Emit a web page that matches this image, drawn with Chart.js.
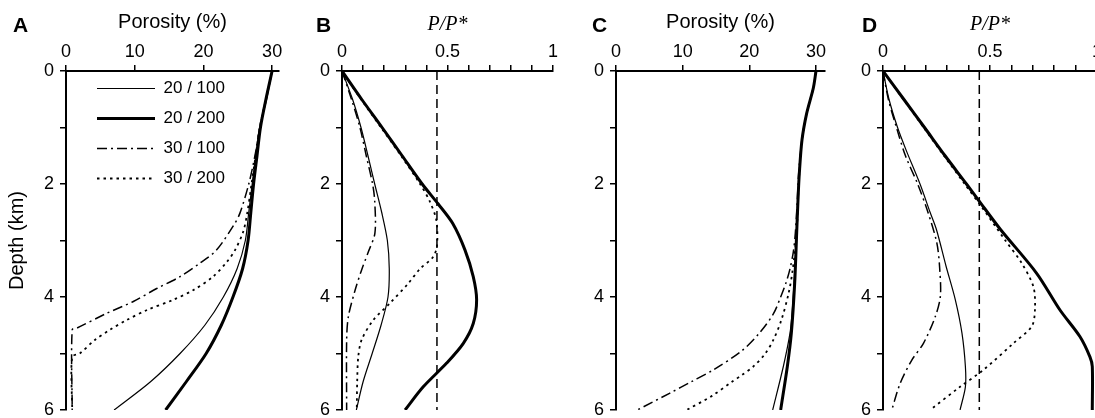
<!DOCTYPE html>
<html>
<head>
<meta charset="utf-8">
<title>Porosity and P/P* versus depth</title>
<script src="https://cdn.jsdelivr.net/npm/chart.js@4.4.1/dist/chart.umd.min.js"></script>
<style>
  html, body { margin: 0; padding: 0; background: #fff; overflow: hidden; }
  body { position: relative; width: 1095px; height: 418px; font-family: "Liberation Sans", Arial, sans-serif; }
  .panel { position: absolute; top: 0; height: 418px; }
  .tag { position: absolute; top: 14px; font-size: 21px; font-weight: bold; line-height: 1; color: #000; }
</style>
</head>
<body>
<div class="panel" style="left: 0; width: 294px"><canvas id="chartA"></canvas></div>
<div class="panel" style="left: 302px; width: 266px"><canvas id="chartB"></canvas></div>
<div class="panel" style="left: 576px; width: 264px"><canvas id="chartC"></canvas></div>
<div class="panel" style="left: 843px; width: 269px"><canvas id="chartD"></canvas></div>
<div class="tag" style="left: 13px">A</div>
<div class="tag" style="left: 316px">B</div>
<div class="tag" style="left: 592px">C</div>
<div class="tag" style="left: 862px">D</div>
<script>
Chart.defaults.font.family = '"Liberation Sans", Arial, sans-serif';
Chart.defaults.color = "#000";

// axes
const depthTicks = [0, 1, 2, 3, 4, 5, 6];
const depthLabels = [0, 2, 4, 6];
const porosityTicks = [0, 10, 20, 30];
const ratioTicks = [0, 0.1, 0.2, 0.3, 0.4, 0.5, 0.6, 0.7, 0.8, 0.9, 1];
const ratioLabels = [0, 0.5, 1];
const seriesNames = ["20 / 100", "20 / 200", "30 / 100", "30 / 200"];

// dashed reference line on the P/P* panels
const critDepth = [0, 6];
const critRatio = [0.45, 0.45];

// panel A: porosity (%)
const aDepth20_100 = [0, 0.5, 1, 1.5, 2, 2.5, 3, 3.5, 4, 4.5, 5, 5.5, 6];
const aPor20_100 = [30, 29.2, 28.2, 27.6, 27.1, 26.6, 26.1, 24.9, 22.9, 20.2, 16.6, 12.3, 7.0];
const aDepth20_200 = [0, 0.5, 1, 1.5, 2, 2.5, 3, 3.5, 4, 4.5, 5, 5.5, 6];
const aPor20_200 = [30, 29.1, 28.3, 27.8, 27.3, 26.9, 26.5, 25.7, 24.3, 22.6, 20.4, 17.5, 14.5];
const aDepth30_100 = [0, 0.5, 1, 1.5, 2, 2.52, 2.73, 3.17, 3.4, 3.64, 3.85, 4.08, 4.29, 4.55, 4.58, 6];
const aPor30_100 = [30, 29.1, 28.2, 27.5, 26.6, 25.3, 24.4, 21.9, 19.5, 16.6, 13.2, 9.8, 5.9, 1.6, 0.9, 0.9];
const aDepth30_200 = [0, 0.5, 1, 1.5, 2, 2.5, 2.84, 3.17, 3.38, 3.64, 3.88, 4.05, 4.23, 4.41, 4.58, 4.76, 5.0, 5.06, 6];
const aPor30_200 = [30, 29.1, 28.2, 27.6, 27.0, 26.4, 25.8, 24.6, 23.4, 21.4, 18.5, 15.6, 11.8, 8.8, 6.4, 4.2, 2.0, 0.9, 0.9];

// panel B: P/P*
const bDepth20_100 = [0, 0.5, 1, 1.5, 2, 2.5, 3, 3.5, 4, 4.5, 5, 5.5, 6];
const bRatio20_100 = [0, 0.05, 0.09, 0.123, 0.155, 0.188, 0.215, 0.224, 0.218, 0.185, 0.143, 0.1, 0.068];
const bDepth20_200 = [0, 0.5, 1, 1.5, 2, 2.35, 2.7, 3.17, 3.64, 4.05, 4.47, 4.82, 5.17, 5.59, 6];
const bRatio20_200 = [0, 0.093, 0.19, 0.285, 0.38, 0.455, 0.525, 0.583, 0.622, 0.638, 0.622, 0.575, 0.496, 0.385, 0.299];
const bDepth30_100 = [0, 0.5, 1, 1.5, 2, 2.3, 2.87, 3.2, 3.52, 3.88, 4.35, 4.76, 6];
const bRatio30_100 = [0, 0.045, 0.085, 0.115, 0.145, 0.155, 0.156, 0.125, 0.093, 0.062, 0.03, 0.022, 0.022];
const bDepth30_200 = [0, 0.5, 1, 1.5, 2, 2.3, 2.64, 3.1, 3.3, 3.5, 3.76, 4.11, 4.41, 4.76, 5.06, 5.5, 6];
const bRatio30_200 = [0, 0.09, 0.185, 0.28, 0.37, 0.415, 0.447, 0.45, 0.43, 0.37, 0.314, 0.227, 0.148, 0.093, 0.077, 0.072, 0.07];

// panel C: porosity (%)
const cDepth20_100 = [0, 0.3, 0.75, 1.22, 1.81, 2.28, 2.87, 3.76, 4.3, 4.64, 5.23, 6];
const cPor20_100 = [30, 29.6, 28.6, 27.9, 27.5, 27.3, 27.1, 26.7, 26.4, 26.1, 25.1, 23.5];
const cDepth20_200 = [0, 0.3, 0.75, 1.22, 1.81, 2.28, 2.87, 3.76, 4.64, 5.23, 6];
const cPor20_200 = [30, 29.6, 28.6, 27.9, 27.5, 27.3, 27.1, 26.8, 26.3, 25.7, 24.7];
const cDepth30_100 = [0, 0.3, 0.75, 1.22, 1.81, 2.28, 2.87, 3.2, 3.5, 3.75, 4.0, 4.3, 4.64, 4.95, 5.29, 5.5, 5.7, 6];
const cPor30_100 = [30, 29.6, 28.6, 27.9, 27.4, 27.2, 26.9, 26.6, 26.1, 25.5, 24.7, 23.6, 21.5, 18.9, 14.6, 11.3, 8.1, 3.2];
const cDepth30_200 = [0, 0.3, 0.75, 1.22, 1.81, 2.28, 2.87, 3.52, 3.93, 4.41, 4.76, 5.0, 5.23, 5.38, 5.5, 5.75, 6];
const cPor30_200 = [30, 29.6, 28.6, 27.9, 27.5, 27.3, 27.1, 26.5, 25.9, 24.8, 23.6, 22.4, 20.6, 18.9, 17.4, 14.4, 10.6];

// panel D: P/P*
const dDepth20_100 = [0, 0.5, 1, 1.4, 2, 2.5, 2.81, 3.46, 4.05, 4.64, 5.23, 5.59, 6];
const dRatio20_100 = [0, 0.028, 0.068, 0.108, 0.173, 0.22, 0.25, 0.295, 0.338, 0.369, 0.385, 0.385, 0.36];
const dDepth20_200 = [0, 0.5, 1, 1.5, 2, 2.28, 2.8, 3.58, 4.23, 4.7, 5.06, 5.23, 6];
const dRatio20_200 = [0, 0.097, 0.194, 0.29, 0.39, 0.445, 0.548, 0.718, 0.827, 0.92, 0.967, 0.978, 0.978];
const dDepth30_100 = [0, 0.5, 1, 1.5, 2, 2.5, 3.05, 3.5, 3.99, 4.35, 4.82, 5.12, 5.53, 6];
const dRatio30_100 = [0, 0.025, 0.063, 0.105, 0.162, 0.21, 0.252, 0.265, 0.268, 0.244, 0.189, 0.134, 0.08, 0.041];
const dDepth30_200 = [0, 0.5, 1, 1.5, 2, 2.4, 2.99, 3.4, 3.82, 4.23, 4.52, 4.82, 5.29, 5.59, 6];
const dRatio30_200 = [0, 0.095, 0.19, 0.285, 0.382, 0.46, 0.57, 0.648, 0.703, 0.71, 0.695, 0.609, 0.469, 0.36, 0.22];

const lineStyles = [
  { borderWidth: 1.2, borderDash: [] },
  { borderWidth: 3, borderDash: [] },
  { borderWidth: 1.5, borderDash: [10, 4, 2, 4] },
  { borderWidth: 1.8, borderDash: [2.5, 4] },
];

const gridStyle = {
  drawOnChartArea: false,
  drawTicks: true,
  tickLength: 6,
  lineWidth: 1.5,
  color: "#000",
};
const borderStyle = { display: true, color: "#000", width: 2 };

const serifItalic = { family: '"Liberation Serif", "Times New Roman", serif', style: "italic", size: 20 };

function toPoints(depth, values) {
  return depth.map((d, i) => ({ x: values[i], y: d }));
}

// legend items take the line style of their dataset (dash included)
function lineLabels(chart) {
  const items = Chart.defaults.plugins.legend.labels.generateLabels(chart);
  items.forEach((it) => {
    const ds = chart.data.datasets[it.datasetIndex];
    it.lineDash = ds.borderDash;
    it.lineWidth = ds.borderWidth;
  });
  return items;
}

// keeps the legend inside panel A where the original has it
const legendNudge = {
  id: "legendNudge",
  afterLayout(chart) {
    const lg = chart.legend;
    const area = chart.chartArea;
    const h = lg.bottom - lg.top;
    lg.top = area.top - 4;
    lg.bottom = lg.top + h;
    lg.left = area.left + 18;
  },
};

function buildChart(id, curves, xAxis, showCrit, first) {
  const datasets = curves.map((c, i) => ({
    label: seriesNames[i],
    data: toPoints(c[0], c[1]),
    borderColor: "#000",
    backgroundColor: "#000",
    ...lineStyles[i],
  }));
  if (showCrit) {
    datasets.push({
      label: "P/P* = 0.45",
      data: toPoints(critDepth, critRatio),
      borderColor: "#000",
      borderWidth: 1.5,
      borderDash: [9, 5],
      tension: 0,
    });
  }

  return new Chart(document.getElementById(id), {
    type: "line",
    data: { datasets },
    plugins: first ? [legendNudge] : [],
    options: {
      responsive: true,
      maintainAspectRatio: false,
      animation: false,
      events: [],
      layout: { padding: { left: 0, top: 0, right: 15, bottom: 8 } },
      elements: {
        point: { radius: 0 },
        line: { tension: 0.3, borderJoinStyle: "round" },
      },
      plugins: {
        tooltip: { enabled: false },
        legend: {
          display: first,
          position: "chartArea",
          align: "start",
          labels: {
            usePointStyle: true,
            pointStyle: "line",
            pointStyleWidth: 58,
            padding: 13,
            color: "#000",
            font: { size: 17 },
            generateLabels: lineLabels,
          },
        },
      },
      scales: {
        x: {
          type: "linear",
          position: "top",
          min: 0,
          max: xAxis.max,
          afterBuildTicks: (s) => {
            s.ticks = xAxis.ticks.map((v) => ({ value: v }));
          },
          afterFit: (s) => {
            s.height = 71;
            s.paddingLeft = 0;
            s.paddingRight = 0;
          },
          ticks: {
            padding: 2,
            autoSkip: false,
            maxRotation: 0,
            font: { size: 18 },
            callback: (v) => (xAxis.labels.includes(v) ? String(v) : ""),
          },
          grid: gridStyle,
          border: borderStyle,
          title: {
            display: true,
            text: xAxis.title,
            font: xAxis.font,
            padding: { top: xAxis.pad, bottom: 0 },
          },
        },
        y: {
          type: "linear",
          reverse: true,
          min: 0,
          max: 6,
          afterBuildTicks: (s) => {
            s.ticks = depthTicks.map((v) => ({ value: v }));
          },
          afterFit: (s) => {
            s.width = first ? 66 : 40;
            s.paddingTop = 0;
            s.paddingBottom = 0;
          },
          ticks: {
            padding: 6,
            autoSkip: false,
            font: { size: 18 },
            callback: (v) => (depthLabels.includes(v) ? String(v) : ""),
          },
          grid: gridStyle,
          border: borderStyle,
          title: {
            display: first,
            text: "Depth (km)",
            font: { size: 20 },
            padding: { top: 5, bottom: 0 },
          },
        },
      },
    },
  });
}

const porosityAxis = (max) => ({
  max: max,
  ticks: porosityTicks,
  labels: porosityTicks,
  title: "Porosity (%)",
  font: { size: 20 },
  pad: 10,
});
const ratioAxis = {
  max: 1,
  ticks: ratioTicks,
  labels: ratioLabels,
  title: "P/P*",
  font: serifItalic,
  pad: 13,
};

const chartA = buildChart(
  "chartA",
  [
    [aDepth20_100, aPor20_100],
    [aDepth20_200, aPor20_200],
    [aDepth30_100, aPor30_100],
    [aDepth30_200, aPor30_200],
  ],
  porosityAxis(31),
  false,
  true
);

const chartB = buildChart(
  "chartB",
  [
    [bDepth20_100, bRatio20_100],
    [bDepth20_200, bRatio20_200],
    [bDepth30_100, bRatio30_100],
    [bDepth30_200, bRatio30_200],
  ],
  ratioAxis,
  true,
  false
);

const chartC = buildChart(
  "chartC",
  [
    [cDepth20_100, cPor20_100],
    [cDepth20_200, cPor20_200],
    [cDepth30_100, cPor30_100],
    [cDepth30_200, cPor30_200],
  ],
  porosityAxis(31.35),
  false,
  false
);

const chartD = buildChart(
  "chartD",
  [
    [dDepth20_100, dRatio20_100],
    [dDepth20_200, dRatio20_200],
    [dDepth30_100, dRatio30_100],
    [dDepth30_200, dRatio30_200],
  ],
  ratioAxis,
  true,
  false
);
</script>
</body>
</html>
